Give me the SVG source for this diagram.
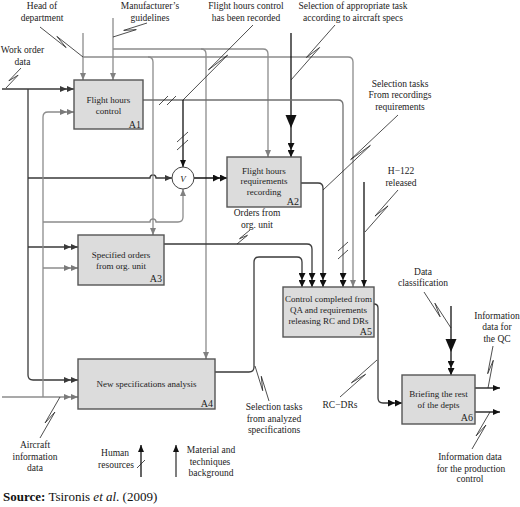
<svg xmlns="http://www.w3.org/2000/svg" width="520" height="507" viewBox="0 0 520 507">
<style>
.box{fill:#dcdcdc;stroke:#555;stroke-width:1.4}
.bt{font-family:"Liberation Serif",serif;font-size:9px;fill:#222;text-anchor:middle}
.lbl{font-family:"Liberation Serif",serif;font-size:9.5px;fill:#222;text-anchor:middle}
.id{font-family:"Liberation Serif",serif;font-size:10px;fill:#222;text-anchor:end}
.ln{fill:none;stroke-width:1.3}
.dk{stroke:#3a3a3a}
.gr{stroke:#8c8c8c}
.md{stroke:#707070}
.bk{stroke:#111}
.sq{fill:none;stroke:#222;stroke-width:0.8}
</style>
<defs>
<marker id="aK" markerUnits="userSpaceOnUse" markerWidth="7" markerHeight="6" refX="7" refY="3" orient="auto"><path d="M0,0L7,3L0,6Z" fill="#111"/></marker>
<marker id="aD" markerUnits="userSpaceOnUse" markerWidth="7" markerHeight="6" refX="7" refY="3" orient="auto"><path d="M0,0L7,3L0,6Z" fill="#3a3a3a"/></marker>
<marker id="aG" markerUnits="userSpaceOnUse" markerWidth="7" markerHeight="6" refX="7" refY="3" orient="auto"><path d="M0,0L7,3L0,6Z" fill="#808080"/></marker>
<marker id="dK" markerUnits="userSpaceOnUse" markerWidth="14" markerHeight="7" refX="14" refY="3.5" orient="auto"><path d="M0,0L7,3.5L0,7ZM7,0L14,3.5L7,7Z" fill="#111"/></marker>
<marker id="dD" markerUnits="userSpaceOnUse" markerWidth="14" markerHeight="6" refX="14" refY="3" orient="auto"><path d="M0,0L7,3L0,6ZM7,0L14,3L7,6Z" fill="#3a3a3a"/></marker>
<marker id="dG" markerUnits="userSpaceOnUse" markerWidth="14" markerHeight="6" refX="14" refY="3" orient="auto"><path d="M0,0L7,3L0,6ZM7,0L14,3L7,6Z" fill="#7a7a7a"/></marker>
</defs>
<rect width="520" height="507" fill="#fff"/>

<g id="connectors">
<!-- inputs -->
<path class="ln dk" d="M2,89H74" marker-end="url(#dD)"/>
<path class="ln dk" d="M28,89V375Q28,380 33,380H78" marker-end="url(#dD)"/>
<path class="ln dk" d="M28,178H150a3,3 0 0 1 6,0H172" marker-end="url(#aD)"/>
<path class="ln dk" d="M28,247H78" marker-end="url(#dD)"/>
<path class="ln gr" d="M2,397H78" marker-end="url(#dG)"/>
<path class="ln gr" d="M43,397V117Q43,112 48,112H74" marker-end="url(#dG)"/>
<path class="ln gr" d="M43,222H150a3,3 0 0 1 6,0H178Q183,222 183,217V189" marker-end="url(#aG)"/>
<path class="ln gr" d="M43,268H78" marker-end="url(#dG)"/>
<!-- controls -->
<path class="ln gr" d="M83,33V80" marker-end="url(#aG)"/>
<path class="ln gr" d="M83,57H348Q353,57 353,62V287" marker-end="url(#aG)"/>
<path class="ln gr" d="M148,57Q153,57 153,62V235" marker-end="url(#aG)"/>
<path class="ln gr" d="M113,18V80" marker-end="url(#aG)"/>
<path class="ln gr" d="M113,49H263Q268,49 268,54V157" marker-end="url(#aG)"/>
<path class="ln gr" d="M201,49Q206,49 206,54V359" marker-end="url(#aG)"/>
<path class="ln bk" d="M291,33V157" marker-end="url(#dK)"/>
<polygon points="285.5,115 296.5,115 291,128" fill="#111"/>
<path class="ln bk" d="M364,182V287" marker-end="url(#aK)"/>
<path class="ln bk" d="M451,306V375" marker-end="url(#dK)"/>
<polygon points="445.5,339 456.5,339 451,352" fill="#111"/>
<!-- outputs -->
<path class="ln md" d="M143,100H338Q343,100 343,105V287" marker-end="url(#dK)"/>
<path class="ln bk" d="M183,100V167" marker-end="url(#aK)"/>
<path class="ln bk" d="M194,178H227" marker-end="url(#dK)"/>
<path class="ln dk" d="M301,183H318Q323,183 323,188V287" marker-end="url(#dK)"/>
<path class="ln dk" d="M164,244H307Q312,244 312,249V287" marker-end="url(#dK)"/>
<path class="ln dk" d="M215,372H249Q254,372 254,367V262Q254,257 259,257H297Q302,257 302,262V287" marker-end="url(#dK)"/>
<path class="ln dk" d="M374,304Q378,304 378,308V398Q378,403 383,403H402" marker-end="url(#dK)"/>
<path class="ln bk" d="M475,388H500" marker-end="url(#aK)"/>
<path class="ln bk" d="M475,412H500" marker-end="url(#aK)"/>
<!-- legend arrows -->
<path class="ln bk" d="M141,477V445" marker-end="url(#aK)"/>
<path class="ln dk" d="M176,477V445" marker-end="url(#aK)"/>
<path class="sq" d="M137,468L145,460"/>
<!-- tick marks -->
<path class="sq" d="M159,105L168,96M167,105L176,96"/>
<path class="sq" d="M177,142L188,132M177,150L188,140"/>
<path class="sq" d="M338,251L348,242M338,259L348,250"/>
<!-- squiggle leaders -->
<path class="sq" d="M40,27L66.1,47.6L56.9,36.4L83,57"/>
<path class="sq" d="M147,23L123.7,30.4L136.3,29.6L113,37"/>
<path class="sq" d="M21,68L8.9,80.8L18.1,75.2L6,88"/>
<path class="sq" d="M253,25L208.4,69.9L227.6,55.1L183,100"/>
<path class="sq" d="M335,25L306.4,57.5L319.6,47.5L291,80"/>
<path class="sq" d="M398,115L350.6,159.6L370.4,145.4L323,190"/>
<path class="sq" d="M398,190L375,216.1L388,205.9L365,232"/>
<path class="sq" d="M250,230L239.5,238.7L247.5,235.3L237,244"/>
<path class="sq" d="M269,401L261.3,376.3L262.7,390.7L255,366"/>
<path class="sq" d="M340,397L365.6,374.3L351.4,382.8L377,360"/>
<path class="sq" d="M424,292L440.1,316.8L434.9,303.2L451,328"/>
<path class="sq" d="M493,346L487.7,373.7L493.3,360.3L488,388"/>
<path class="sq" d="M472,449L485.9,425.1L476.1,435.9L490,412"/>
<path class="sq" d="M40,438L54.9,412.1L45.1,422.9L60,397"/>
</g>

<g id="A1">
<rect class="box" x="74" y="80" width="69" height="49"/>
<text class="bt" x="108.5" y="103">Flight hours</text>
<text class="bt" x="108.5" y="113.5">control</text>
<text class="id" x="141" y="127.5">A1</text>
</g>
<g id="A2">
<rect class="box" x="227" y="157" width="74" height="50"/>
<text class="bt" x="264" y="173.5">Flight hours</text>
<text class="bt" x="264" y="184">requirements</text>
<text class="bt" x="264" y="194.5">recording</text>
<text class="id" x="299" y="205">A2</text>
</g>
<g id="A3">
<rect class="box" x="78" y="235" width="86" height="50"/>
<text class="bt" x="121" y="258">Specified orders</text>
<text class="bt" x="121" y="268.5">from org. unit</text>
<text class="id" x="162" y="281.5">A3</text>
</g>
<g id="A4">
<rect class="box" x="78" y="359" width="137" height="50"/>
<text class="bt" x="146.5" y="386.5">New specifications analysis</text>
<text class="id" x="213" y="406.5">A4</text>
</g>
<g id="A5">
<rect class="box" x="283" y="287" width="91" height="50"/>
<text class="bt" x="328.5" y="302">Control completed from</text>
<text class="bt" x="328.5" y="313">QA and requirements</text>
<text class="bt" x="328.5" y="324">releasing RC and DRs</text>
<text class="id" x="372" y="335">A5</text>
</g>
<g id="A6">
<rect class="box" x="402" y="375" width="73" height="49"/>
<text class="bt" x="438.5" y="397">Briefing the rest</text>
<text class="bt" x="438.5" y="407.5">of the depts</text>
<text class="id" x="473" y="420.5">A6</text>
</g>
<g id="junction">
<circle cx="183" cy="178" r="11" fill="#fff" stroke="#444" stroke-width="1"/>
<text class="bt" x="183" y="181.5" font-style="italic">V</text>
</g>

<g id="labels">
<text class="lbl" x="42" y="9">Head of</text>
<text class="lbl" x="42" y="21">department</text>
<text class="lbl" x="150" y="9">Manufacturer’s</text>
<text class="lbl" x="150" y="21">guidelines</text>
<text class="lbl" x="22.5" y="52.5">Work order</text>
<text class="lbl" x="22.5" y="64.5">data</text>
<text class="lbl" x="246" y="9">Flight hours control</text>
<text class="lbl" x="246" y="21">has been recorded</text>
<text class="lbl" x="353" y="9">Selection of appropriate task</text>
<text class="lbl" x="353" y="21">according to aircraft specs</text>
<text class="lbl" x="400" y="86.5">Selection tasks</text>
<text class="lbl" x="400" y="98">From recordings</text>
<text class="lbl" x="400" y="110">requirements</text>
<text class="lbl" x="401" y="174">H−122</text>
<text class="lbl" x="401" y="186">released</text>
<text class="lbl" x="257" y="216">Orders from</text>
<text class="lbl" x="257" y="227.5">org. unit</text>
<text class="lbl" x="423" y="275">Data</text>
<text class="lbl" x="423" y="286">classification</text>
<text class="lbl" x="497" y="319">Information</text>
<text class="lbl" x="497" y="330">data for</text>
<text class="lbl" x="497" y="341.5">the QC</text>
<text class="lbl" x="274" y="410">Selection tasks</text>
<text class="lbl" x="274" y="422">from analyzed</text>
<text class="lbl" x="274" y="432.5">specifications</text>
<text class="lbl" x="340" y="408">RC−DRs</text>
<text class="lbl" x="470" y="460">Information data</text>
<text class="lbl" x="471" y="471.5">for the production</text>
<text class="lbl" x="470" y="482">control</text>
<text class="lbl" x="35" y="448">Aircraft</text>
<text class="lbl" x="35" y="460">information</text>
<text class="lbl" x="35" y="470.5">data</text>
<text class="lbl" x="115" y="456">Human</text>
<text class="lbl" x="116" y="468">resources</text>
<text class="lbl" x="211" y="453">Material and</text>
<text class="lbl" x="210" y="465">techniques</text>
<text class="lbl" x="211" y="476">background</text>
<text x="3" y="501" font-family="'Liberation Serif',serif" font-size="13" fill="#111"><tspan font-weight="bold">Source:</tspan> Tsironis <tspan font-style="italic">et al</tspan>. (2009)</text>
</g>
</svg>
